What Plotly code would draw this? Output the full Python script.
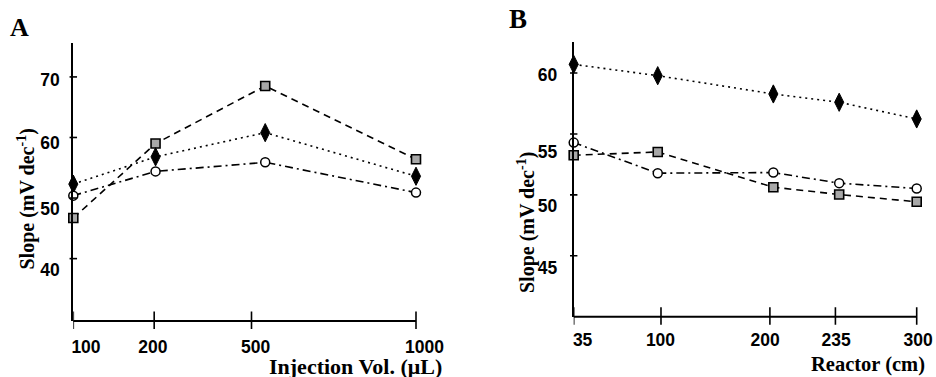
import plotly.graph_objects as go

# ---- data: panel A (injection volume) ----
A_labels = ["100", "200", "500", "1000"]
A_square = [46.7, 59.0, 68.5, 56.4]
A_diamond = [52.3, 56.8, 60.8, 53.6]
A_circle = [50.4, 54.4, 55.9, 50.9]
A_yticks = [40, 50, 60, 70]

# ---- data: panel B (reactor length) ----
B_labels = ["35", "100", "200", "235", "300"]
B_diamond = [60.71, 59.78, 58.28, 57.6, 56.23]
B_circle = [54.29, 51.78, 51.83, 50.96, 50.52]
B_square = [53.25, 53.52, 50.63, 50.03, 49.43]
B_yticks = [45, 50, 55, 60]

# ---- layout: placement on the original's irregular axes ----
A_tick_pos = [0, 0.236, 0.52, 1.0]
A_pt_pos = [0, 0.24, 0.56, 1.0]
A_xlab_pos = [0.037, 0.232, 0.532, 1.025]
A_ylab_pos = [38.13, 48.26, 59.17, 69.55]
B_tick_pos = [0, 0.2545, 0.572, 0.763, 1.0]
B_pt_pos = [0, 0.245, 0.582, 0.774, 1.0]
B_xlab_pos = [0.026, 0.253, 0.558, 0.765, 1.004]
B_ylab_pos = [44.0, 49.1, 53.55, 59.84]

W, H = 936, 377
A_XMAX = 1.04  # axis range head-room so the last labels (centred past the line end) show
B_XMAX = 1.03
fig = go.Figure()

sq = dict(symbol="square", size=9, color="#a8a8a8", line=dict(color="black", width=1.6))
dm = dict(symbol="diamond-tall", size=13, color="black", line=dict(color="black", width=1))
ci = dict(symbol="circle", size=9, color="white", line=dict(color="black", width=1.5))

def add(xs, ys, marker, dash, xa, ya):
    fig.add_trace(go.Scatter(x=xs, y=ys, mode="lines+markers", marker=marker,
                             line=dict(color="black", width=1.6, dash=dash),
                             xaxis=xa, yaxis=ya, cliponaxis=False, showlegend=False))

add(A_pt_pos, A_square, sq, "7px,5px", "x", "y")
add(A_pt_pos, A_diamond, dm, "2px,4px", "x", "y")
add(A_pt_pos, A_circle, ci, "8px,4px,2px,4px", "x", "y")
add(B_pt_pos, B_diamond, dm, "2px,4px", "x2", "y2")
add(B_pt_pos, B_square, sq, "7px,5px", "x2", "y2")
add(B_pt_pos, B_circle, ci, "8px,4px,2px,4px", "x2", "y2")

tickfont = dict(family="Liberation Sans", size=17.5, color="black", weight="bold")
common_ax = dict(linecolor="black", linewidth=2, ticks="", ticklen=0,
                 showgrid=False, zeroline=False, tickfont=tickfont, automargin=False)

A_x0, A_len = 73.3, 342.7
B_x0, B_len = 573.7, 343.0

fig.update_layout(
    template="none",
    width=W, height=H, margin=dict(l=0, r=0, t=0, b=0, pad=0),
    paper_bgcolor="white", plot_bgcolor="white",
    xaxis=dict(domain=[A_x0 / W, (A_x0 + A_len * A_XMAX) / W], range=[0, A_XMAX],
               tickvals=A_xlab_pos, ticktext=A_labels, ticklabelstandoff=13,
               showline=False, anchor="y", **common_ax),
    yaxis=dict(domain=[(H - 321) / H, (H - 43) / H], range=[29.7, 75.6],
               tickvals=A_ylab_pos, ticktext=[str(v) for v in A_yticks],
               ticklabelstandoff=8, showline=True, anchor="x", **common_ax),
    xaxis2=dict(domain=[B_x0 / W, (B_x0 + B_len * B_XMAX) / W], range=[0, B_XMAX],
                tickvals=B_xlab_pos, ticktext=B_labels, ticklabelstandoff=11,
                showline=False, anchor="y2", ticklabeloverflow="allow", **common_ax),
    yaxis2=dict(domain=[(H - 316.7) / H, (H - 41.7) / H], range=[40.0, 62.57],
                tickvals=B_ylab_pos, ticktext=[str(v) for v in B_yticks],
                ticklabelstandoff=11, showline=True, anchor="x2", **common_ax),
)

# x axis lines (ending at the last tick) and crossing tick marks
tl = dict(color="black", width=1.6)
shapes = [
    dict(type="line", xref="x", yref="y domain", x0=-0.008, x1=A_tick_pos[-1], y0=0, y1=0,
         line=dict(color="black", width=2)),
    dict(type="line", xref="x2", yref="y2 domain", x0=0, x1=B_tick_pos[-1], y0=0, y1=0,
         line=dict(color="black", width=2)),
]
for p in A_tick_pos:
    shapes.append(dict(type="line", xref="x", yref="y domain", x0=p, x1=p,
                       y0=-0.029, y1=0.034, line=tl))
for p in B_tick_pos:
    shapes.append(dict(type="line", xref="x2", yref="y2 domain", x0=p, x1=p,
                       y0=-0.029, y1=0.034, line=tl))
for v in A_yticks:
    shapes.append(dict(type="line", xref="x domain", yref="y", x0=-0.0105, x1=0.0105,
                       y0=v, y1=v, line=tl))
for v in B_yticks:
    shapes.append(dict(type="line", xref="x2 domain", yref="y2", x0=-0.0105, x1=0.0105,
                       y0=v, y1=v, line=tl))
fig.update_layout(shapes=shapes)

serif = "Liberation Serif"
ann = [
    dict(text="<b>A</b>", x=8 / W, y=1 - 10.5 / H, xanchor="left", yanchor="top",
         font=dict(family=serif, size=26, color="black")),
    dict(text="<b>B</b>", x=507 / W, y=1 - 1.5 / H, xanchor="left", yanchor="top",
         font=dict(family=serif, size=27, color="black")),
    dict(text="<b>Injection Vol. (\u03bcL)</b>", x=444 / W, y=1 - 352 / H, xanchor="right",
         yanchor="top", font=dict(family=serif, size=22, color="black")),
    dict(text="<b>Reactor (cm)</b>", x=927 / W, y=1 - 351 / H, xanchor="right", yanchor="top",
         font=dict(family=serif, size=20.5, color="black")),
    dict(text="<b>Slope (mV dec<sup>-1</sup>)</b>", x=26 / W, y=1 - 199.5 / H, textangle=-90,
         xanchor="center", yanchor="middle", font=dict(family=serif, size=20, color="black")),
    dict(text="<b>Slope (mV dec<sup>-1</sup>)</b>", x=526 / W, y=1 - 223 / H, textangle=-90,
         xanchor="center", yanchor="middle", font=dict(family=serif, size=20, color="black")),
]
for a in ann:
    a.update(xref="paper", yref="paper", showarrow=False)
fig.update_layout(annotations=ann)

fig.write_html("out.html", config={"displayModeBar": False},
               post_script="document.body.style.margin='0px';")
